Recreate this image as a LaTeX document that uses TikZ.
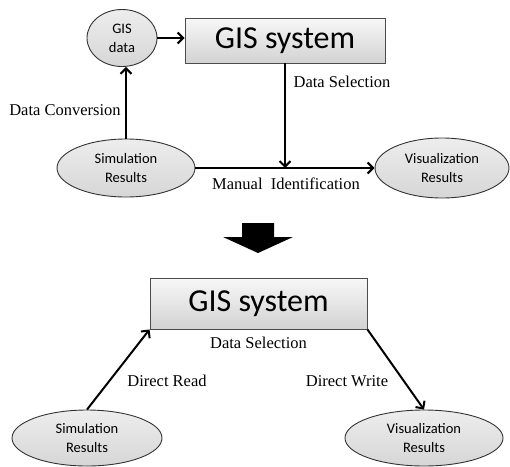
\documentclass[tikz,border=0pt]{standalone}
\usepackage{fontspec}
\setmainfont{Liberation Serif}
\newfontfamily\calibfont{Carlito}
\usepackage{tikz}
\usetikzlibrary{positioning, shapes.geometric, arrows.meta}

\begin{document}
\begin{tikzpicture}[
  x=1pt, y=-1pt,
  node distance=4pt,
  oval/.style={
    ellipse, draw=black!80, line width=0.9pt, inner sep=0pt,
    top color=gray!14, bottom color=gray!32,
    font=\calibfont\fontsize{14.5}{19}\selectfont, align=center
  },
  gisbox/.style={
    rectangle, draw=black!70, line width=0.9pt,
    top color=gray!6, bottom color=gray!35,
    font=\calibfont\fontsize{32}{36}\selectfont
  },
  lbl/.style={font=\fontsize{16.5}{19}\selectfont, inner sep=0pt},
  arrow/.style={-{Straight Barb[length=5.5pt,width=11pt]}, line width=2pt}
]
  \useasboundingbox (0,0) rectangle (510,466);

  % Before: manual workflow
  \node[oval, minimum width=70pt, minimum height=57pt] (gisdata) at (122,38) {GIS\\data};
  \node[gisbox, minimum width=200pt, minimum height=45pt] (gis1) at (285,40.5) {GIS system};
  \node[oval, minimum width=138pt, minimum height=58pt] (sim1) at (126,168) {Simulation\\Results};
  \node[oval, minimum width=134pt, minimum height=60pt] (vis1) at (442,168) {Visualization\\Results};

  \node[lbl] (conv) at (65,110) {Data Conversion};
  \node[lbl] (sel1) at (342,82) {Data Selection};
  \node[lbl] (manual) at (286,184) {Manual\ \ Identification};

  \draw[arrow] (gisdata.east) -- (gisdata.east -| gis1.west);
  \draw[arrow] (sim1.north) -- (sim1.north |- gisdata.south);
  \draw[arrow] (sim1.east) -- (vis1.west);
  \draw[arrow] (gis1.south) -- (gis1.south |- sim1.east);

  % Transition arrow
  \fill (242,223) -- (274,223) -- (274,237) -- (293,237) -- (258,253)
    -- (223,237) -- (242,237) -- cycle;

  % After: direct read and write
  \node[gisbox, minimum width=217pt, minimum height=51pt] (gis2) at (258.5,303.5) {GIS system};
  \node[oval, minimum width=150pt, minimum height=56pt] (sim2) at (87,438) {Simulation\\Results};
  \node[oval, minimum width=158pt, minimum height=56pt] (vis2) at (424,438) {Visualization\\Results};

  \node[lbl, below=7pt of gis2] (sel2) {Data Selection};
  \node[lbl] (read) at (167,381) {Direct Read};
  \node[lbl] (write) at (347,381) {Direct Write};

  \draw[arrow] (sim2.north) -- (gis2.south west);
  \draw[arrow] (gis2.south east) -- (vis2.north);
\end{tikzpicture}
\end{document}
